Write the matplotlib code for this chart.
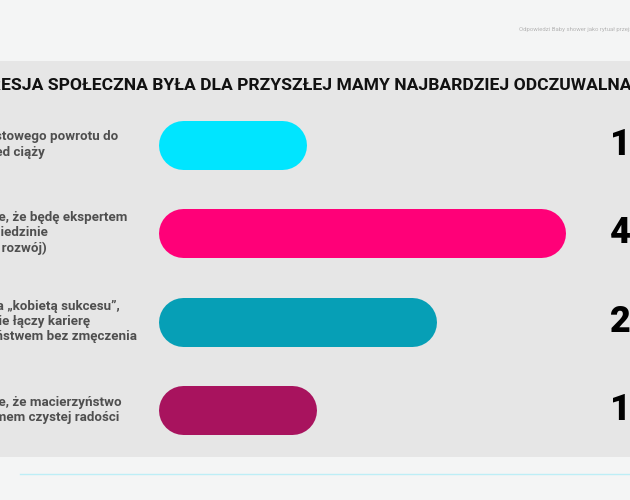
import matplotlib
matplotlib.use("Agg")
import matplotlib.pyplot as plt
from matplotlib.patches import Rectangle
from matplotlib.lines import Line2D

# ---- data ----
labels = [
    "Natychmiastowego powrotu do\nformy sprzed ciąży",
    "Przekonanie, że będę ekspertem\nw każdej dziedzinie\n(karmienie, rozwój)",
    "Presja bycia „kobietą sukcesu”,\nktóra płynnie łączy karierę\nz macierzyństwem bez zmęczenia",
    "Przekonanie, że macierzyństwo\njest synonimem czystej radości",
]
values = [15, 41, 28, 16]
value_labels = ["15%", "41%", "28%", "16%"]
colors = ["#00e5ff", "#ff0078", "#069fb6", "#a8135e"]
title = "KTÓRA PRESJA SPOŁECZNA BYŁA DLA PRZYSZŁEJ MAMY NAJBARDZIEJ ODCZUWALNA?"
source = "Odpowiedzi Baby shower jako rytuał przejścia"

W, H = 630, 500
fig = plt.figure(figsize=(W / 100, H / 100), dpi=100)
fig.patch.set_facecolor("#f4f5f5")

def fy(py):  # pixel-from-top to figure fraction
    return 1 - py / H

# gray panel
fig.patches.append(Rectangle((0, fy(457)), 1, (457 - 61) / H, transform=fig.transFigure,
                             facecolor="#e6e6e6", edgecolor="none", zorder=-5))
# bottom thin line
fig.lines.append(Line2D([20 / W, 1], [fy(474), fy(474)], transform=fig.transFigure,
                        color="#bdeef6", lw=1.0))

# source text
fig.text(519 / W, fy(29), source, fontsize=4.3, color="#b5b5b5", family="Roboto",
         ha="left", va="center")

# title (starts left of the visible area)
TFS = 12.6
TFAM = "Roboto"
t = fig.text(0, fy(85), title, fontsize=TFS, fontweight="bold", color="#111111",
             family=TFAM, ha="left", va="center")
fig.canvas.draw()
r = fig.canvas.get_renderer()
tmp = fig.text(0, 0, "KTÓRA PR", fontsize=TFS, fontweight="bold", family=TFAM)
wpx = tmp.get_window_extent(r).width
tmp.remove()
t.set_x(-(wpx - 1) / W)

# bar axes
px_per_unit = 9.93
x0_px, x1_px = 158, 630
top_px, bot_px = 61, 457
c0, step = 144.5, 88.5
ax = fig.add_axes([x0_px / W, fy(bot_px), (x1_px - x0_px) / W, (bot_px - top_px) / H])
ax.set_xlim(0, (x1_px - x0_px) / px_per_unit)
ax.set_ylim((bot_px - c0) / step, (top_px - c0) / step)
ax.axis("off")

bar_h_px = 49
lw_pt = bar_h_px * 72 / 100
r_units = (bar_h_px / 2) / px_per_unit
for i, (v, c) in enumerate(zip(values, colors)):
    ax.plot([r_units, v - r_units], [i, i], color=c, lw=lw_pt,
            solid_capstyle="round", zorder=3)

label_x = (-70 - x0_px) / px_per_unit
value_x = (610 - x0_px) / px_per_unit
for i, (lab, vl) in enumerate(zip(labels, value_labels)):
    ax.text(label_x, i, lab, fontsize=9.6, fontweight="semibold", color="#4f4f4f",
            family="Roboto", ha="left", va="center", linespacing=1.22, clip_on=False)
    ax.text(value_x, i, vl, fontsize=26, fontweight="black", color="#000000",
            family="Roboto", ha="left", va="center", clip_on=False)

fig.savefig("out.png", dpi=100, facecolor=fig.get_facecolor())
